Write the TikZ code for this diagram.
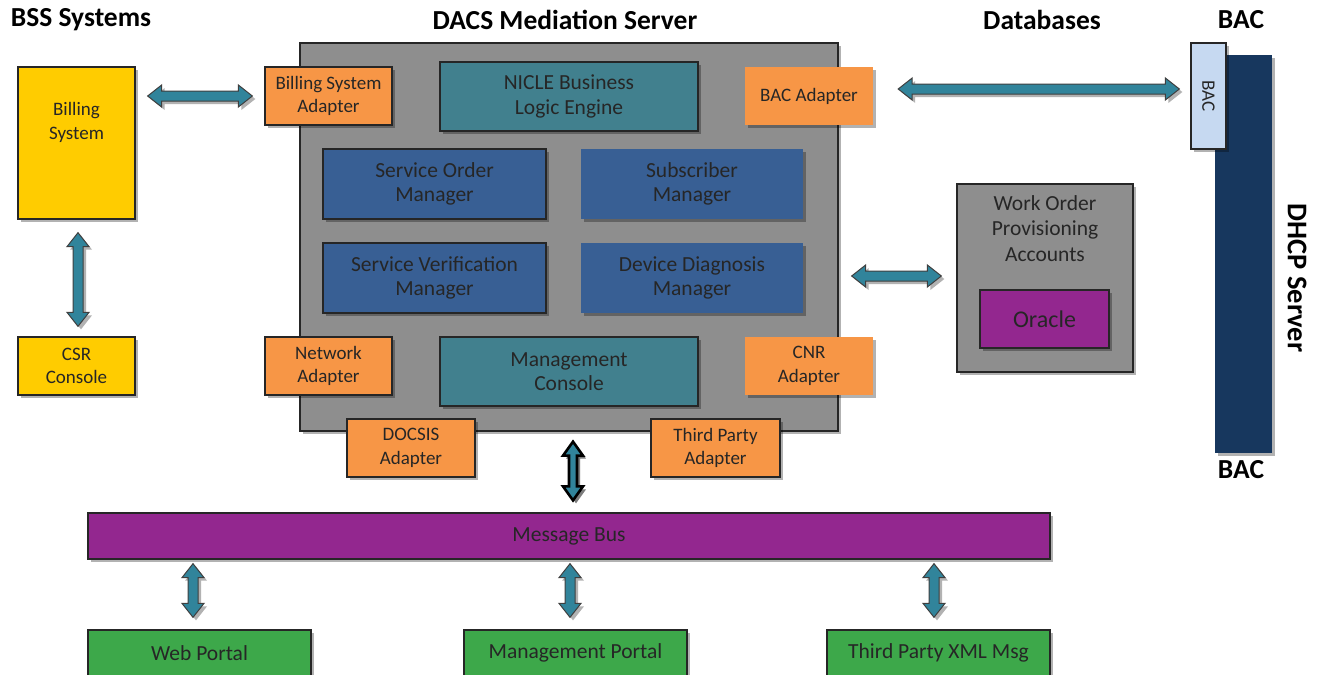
\documentclass[tikz,border=0pt]{standalone}
\usepackage{fontspec}
\setmainfont{Carlito}
\usetikzlibrary{calc,shadows}
\definecolor{txt}{HTML}{262626}
\definecolor{bdr}{HTML}{262626}
\definecolor{cyellow}{HTML}{FFCC00}
\definecolor{corange}{HTML}{F79646}
\definecolor{cteal}{HTML}{41808E}
\definecolor{cblue}{HTML}{385F94}
\definecolor{cpurple}{HTML}{93278F}
\definecolor{cgreen}{HTML}{3DA84A}
\definecolor{cnavy}{HTML}{17375E}
\definecolor{clight}{HTML}{C6D9F1}
\definecolor{cgray}{HTML}{8E8E8E}
\definecolor{arrteal}{HTML}{31849B}
\definecolor{arrbd}{HTML}{3F3F3F}
\tikzset{
  shad/.style={drop shadow={shadow xshift=3pt,shadow yshift=-3pt,opacity=0.3,fill=black}},
  box/.style={rectangle, inner sep=0pt, align=center, text=txt,
    font=\fontsize{21.5}{24.5}\selectfont, shad},
  small/.style={font=\fontsize{19}{23.5}\selectfont},
  bd/.style={draw=bdr, line width=1.3pt},
  lbl/.style={inner sep=0pt, align=center, text=txt, font=\fontsize{21.5}{24.5}\selectfont},
  header/.style={inner sep=0pt, text=black, font=\bfseries\fontsize{27.5}{30}\selectfont},
  barrow/.style={fill=arrteal, draw=arrbd, line width=1pt, line join=miter, shad},
  blackarrow/.style={fill=arrteal, draw=black, line width=2.6pt, line join=miter, shad}
}
\newcommand{\blockarr}[5][]{%
  \coordinate (bkP) at ($(#2)!14pt!(#3)$);
  \coordinate (bkQ) at ($(#3)!14pt!(#2)$);
  \draw[barrow,#1] (#2) -- ($(bkP)!#4pt!90:(#3)$) -- ($(bkP)!#5pt!90:(#3)$)
    -- ($(bkQ)!#5pt!-90:(#2)$) -- ($(bkQ)!#4pt!-90:(#2)$) -- (#3)
    -- ($(bkQ)!#4pt!90:(#2)$) -- ($(bkQ)!#5pt!90:(#2)$)
    -- ($(bkP)!#5pt!-90:(#3)$) -- ($(bkP)!#4pt!-90:(#3)$) -- cycle;}
\begin{document}
\begin{tikzpicture}[x=1pt,y=-1pt]
\useasboundingbox (0,0) rectangle (1318,675);

% headers
\node[header] (hbss) at (81,20) {BSS Systems};
\node[header] (hdacs) at (565,20) {DACS Mediation Server};
\node[header] (hdb) at (1042,20) {Databases};
\node[header] (hbac) at (1241,20) {BAC};
\node[header] (hbacb) at (1241,470) {BAC};
\node[header, rotate=-90, font=\bfseries\fontsize{28.5}{30}\selectfont] (hdhcp) at (1297,278) {DHCP Server};

% BSS side
\node[box, bd, fill=cyellow, minimum width=117pt, minimum height=152pt,
  label={[lbl, small, anchor=north, yshift=-36pt]north:Billing\\System}] (bill) at (76.5,143) {};
\node[box, small, bd, fill=cyellow, minimum width=117pt, minimum height=58pt] (csr) at (76.5,366) {CSR\\Console};

% DACS server
\node[box, bd, fill=cgray, minimum width=538pt, minimum height=388pt] (dacs) at (569,237) {};
\node[box, small, bd, fill=corange, minimum width=127pt, minimum height=58pt] (bsa) at (328.5,96) {Billing System\\Adapter};
\node[box, bd, fill=cteal, minimum width=258pt, minimum height=69pt] (nicle) at (569,96.5) {NICLE Business\\Logic Engine};
\node[box, small, fill=corange, minimum width=128pt, minimum height=58pt] (baca) at (809,96) {BAC Adapter};
\node[box, bd, fill=cblue, minimum width=223pt, minimum height=70pt] (som) at (434.5,184) {Service Order\\Manager};
\node[box, fill=cblue, minimum width=222pt, minimum height=70pt] (subm) at (692,184) {Subscriber\\Manager};
\node[box, bd, fill=cblue, minimum width=223pt, minimum height=70pt] (svm) at (434.5,278) {Service Verification\\Manager};
\node[box, fill=cblue, minimum width=222pt, minimum height=70pt] (ddm) at (692,278) {Device Diagnosis\\Manager};
\node[box, small, bd, fill=corange, minimum width=127pt, minimum height=58pt] (neta) at (328.5,366) {Network\\Adapter};
\node[box, bd, fill=cteal, minimum width=258pt, minimum height=69pt] (mcon) at (569,371.5) {Management\\Console};
\node[box, small, fill=corange, minimum width=128pt, minimum height=58pt] (cnra) at (809,366) {CNR\\Adapter};
\node[box, small, bd, fill=corange, minimum width=128pt, minimum height=58pt] (docsis) at (411,448) {DOCSIS\\Adapter};
\node[box, small, bd, fill=corange, minimum width=129pt, minimum height=58pt] (tpa) at (715.5,448) {Third Party\\Adapter};

% databases
\node[box, bd, fill=cgray, minimum width=176pt, minimum height=188pt,
  label={[lbl, anchor=north, yshift=-12pt, font=\fontsize{21.5}{25.5}\selectfont]north:Work Order\\Provisioning\\Accounts}] (wo) at (1045,278) {};
\node[box, bd, fill=cpurple, minimum width=129pt, minimum height=58pt,
  font=\fontsize{24}{28}\selectfont] (oracle) at (1044.5,319) {Oracle};

% BAC / DHCP
\node[box, fill=cnavy, minimum width=57pt, minimum height=398pt] (dhcp) at (1243.5,254) {};
\node[box, bd, fill=clight, minimum width=35pt, minimum height=106pt] (bacbox) at (1208.5,96) {};
\node[lbl, rotate=-90, font=\fontsize{19}{22}\selectfont] (bactxt) at (bacbox.center) {BAC};

% message bus and portals
\node[box, bd, fill=cpurple, minimum width=962pt, minimum height=46pt] (bus) at (569,536) {Message Bus};
\node[box, bd, fill=cgreen, minimum width=223pt, minimum height=46pt] (web) at (199.5,653) {Web Portal};
\node[box, bd, fill=cgreen, minimum width=223pt, minimum height=46pt] (mport) at (575.5,653) {Management Portal};
\node[box, bd, fill=cgreen, minimum width=223pt, minimum height=46pt] (txml) at (938.5,653) {Third Party XML Msg};

% connectors
\coordinate (a1s) at ($(bill.east |- bsa.west)+(12,0)$);
\coordinate (a1e) at ($(bsa.west)+(-12,0)$);
\blockarr{a1s}{a1e}{11}{5}
\coordinate (a2s) at ($(bill.south)+(1.5,13)$);
\coordinate (a2e) at ($(csr.north)+(1.5,-10)$);
\blockarr{a2s}{a2e}{11}{5}
\coordinate (a3s) at ($(baca.east)+(25,-7)$);
\coordinate (a3e) at ($(bacbox.west)+(-11,-7)$);
\blockarr{a3s}{a3e}{11}{5}
\coordinate (a4e) at ($(wo.west)+(-15,-2)$);
\coordinate (a4s) at ($(dacs.east |- wo.west)+(13,-2)$);
\blockarr{a4s}{a4e}{11}{5}
\coordinate (a5s) at ($(dacs.south)+(4,10)$);
\coordinate (a5e) at ($(bus.north)+(4,-12)$);
\blockarr[blackarrow]{a5s}{a5e}{10}{4}
\coordinate (a6e) at ($(web.north)+(-6.5,-12)$);
\coordinate (a6s) at ($(bus.south -| web.north)+(-6.5,4)$);
\blockarr{a6s}{a6e}{11}{5}
\coordinate (a7e) at ($(mport.north)+(-5.5,-12)$);
\coordinate (a7s) at ($(bus.south -| mport.north)+(-5.5,4)$);
\blockarr{a7s}{a7e}{11}{5}
\coordinate (a8e) at ($(txml.north)+(-4.5,-12)$);
\coordinate (a8s) at ($(bus.south -| txml.north)+(-4.5,4)$);
\blockarr{a8s}{a8e}{11}{5}
\end{tikzpicture}
\end{document}
